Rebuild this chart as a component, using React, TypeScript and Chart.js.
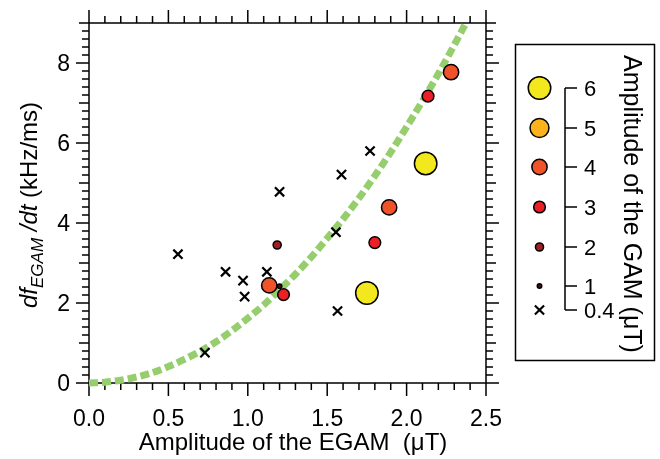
import React, { useEffect, useRef } from "react";
import { Chart, registerables } from "chart.js";

Chart.register(...registerables);

// ---- data ----
const xTickValues = [0, 0.5, 1, 1.5, 2, 2.5];
const xTickLabels = ["0.0", "0.5", "1.0", "1.5", "2.0", "2.5"];
const yTickValues = [0, 2, 4, 6, 8];
const yTickLabels = ["0", "2", "4", "6", "8"];

// GAM amplitude below ~0.4 uT (crosses)
const crossX = [0.56, 0.86, 0.97, 0.98, 1.12, 1.2, 0.73, 1.59, 1.77, 1.555, 1.565];
const crossY = [3.22, 2.78, 2.56, 2.16, 2.78, 4.78, 0.76, 5.21, 5.8, 3.77, 1.8];

// points with GAM amplitude (uT)
const gamX = [2.12, 1.75, 2.28, 1.89, 1.135, 2.135, 1.8, 1.225, 1.185, 1.2];
const gamY = [5.49, 2.25, 7.77, 4.39, 2.44, 7.17, 3.51, 2.21, 3.45, 2.42];
const gamAmp = [6, 6, 4, 4, 4, 3, 3, 3, 2, 1];

// green fit curve
const fitX = [0, 0.1, 0.2, 0.3, 0.4, 0.5, 0.6, 0.7, 0.8, 0.9, 1.0, 1.1, 1.2, 1.3, 1.4, 1.5, 1.6, 1.7, 1.8, 1.9, 2.0, 2.1, 2.2, 2.3, 2.4];
const fitY = [0, 0.02, 0.07, 0.15, 0.26, 0.41, 0.59, 0.79, 1.03, 1.31, 1.62, 1.95, 2.33, 2.72, 3.15, 3.62, 4.1, 4.62, 5.18, 5.77, 6.4, 7.05, 7.73, 8.45, 9.2];

// legend
const legendLevels = [6, 5, 4, 3, 2, 1];
const legendLabels = ["6", "5", "4", "3", "2", "1", "0.4"];
const xTitle = "Amplitude of the EGAM  (\u03bcT)";
const legendTitle = "Amplitude of the GAM (\u03bcT)";

// ---- styles ----
const FONT = '"Liberation Sans", Arial, Helvetica, sans-serif';
const ampColor = (a: number): string => {
  const m: Record<number, string> = {
    6: "#f2e81d",
    5: "#fbb21b",
    4: "#f05229",
    3: "#ec1f26",
    2: "#a31e22",
    1: "#4b1010",
  };
  return m[a] || "#000";
};
const ampRadius = (a: number): number => 1.8 * a + 1.2 - 0.75;

const drawCross = (ctx: CanvasRenderingContext2D, cx: number, cy: number, r: number) => {
  const o = r * Math.SQRT1_2;
  ctx.beginPath();
  ctx.moveTo(cx - o, cy - o);
  ctx.lineTo(cx + o, cy + o);
  ctx.moveTo(cx - o, cy + o);
  ctx.lineTo(cx + o, cy - o);
  ctx.lineWidth = 2.2;
  ctx.strokeStyle = "#000";
  ctx.stroke();
};

const framePlugin = {
  id: "frame",
  beforeDatasetsDraw(chart: any) {
    const { ctx, chartArea: a, scales } = chart;
    const xs = scales.x;
    const ys = scales.y;
    ctx.save();
    ctx.strokeStyle = "#000";
    ctx.lineWidth = 1.5;
    ctx.strokeRect(a.left, a.top, a.right - a.left, a.bottom - a.top);
    ctx.beginPath();
    for (let i = 0; i <= 25; i++) {
      const px = xs.getPixelForValue(i / 10);
      const len = i % 5 === 0 ? 13 : 7;
      ctx.moveTo(px, a.bottom);
      ctx.lineTo(px, a.bottom + len);
      ctx.moveTo(px, a.top);
      ctx.lineTo(px, a.top - len);
    }
    for (let i = 0; i <= 45; i++) {
      const py = ys.getPixelForValue(i / 5);
      const len = i % 10 === 0 ? 13 : i % 5 === 0 ? 10 : 7;
      ctx.moveTo(a.left, py);
      ctx.lineTo(a.left - len, py);
      ctx.moveTo(a.right, py);
      ctx.lineTo(a.right + len, py);
    }
    ctx.stroke();
    ctx.restore();
  },
  afterDraw(chart: any) {
    const { ctx, scales } = chart;
    const xs = scales.x;
    const ys = scales.y;
    ctx.save();
    ctx.fillStyle = "#000";
    // tick labels
    ctx.font = `23px ${FONT}`;
    ctx.textBaseline = "alphabetic";
    ctx.textAlign = "center";
    xTickValues.forEach((v, i) => {
      ctx.fillText(xTickLabels[i], xs.getPixelForValue(v), 426);
    });
    ctx.textAlign = "right";
    yTickValues.forEach((v, i) => {
      ctx.fillText(yTickLabels[i], 70, ys.getPixelForValue(v) + 8.3);
    });
    // x title
    ctx.font = `24px ${FONT}`;
    ctx.textAlign = "center";
    ctx.fillText(xTitle, 293, 450);

    // y title (rotated, mixed italics)
    ctx.save();
    ctx.translate(37, 205);
    ctx.rotate(-Math.PI / 2);
    const segs = [
      { t: "df", f: `italic 24px ${FONT}`, dy: 0 },
      { t: "EGAM", f: `italic 17px ${FONT}`, dy: 6 },
      { t: " /dt", f: `italic 24px ${FONT}`, dy: 0 },
      { t: " (kHz/ms)", f: `24px ${FONT}`, dy: 0 },
    ];
    let total = 0;
    segs.forEach((s) => {
      ctx.font = s.f;
      total += ctx.measureText(s.t).width;
    });
    let cx = -total / 2;
    ctx.textAlign = "left";
    segs.forEach((s) => {
      ctx.font = s.f;
      ctx.fillText(s.t, cx, s.dy);
      cx += ctx.measureText(s.t).width;
    });
    ctx.restore();

    // legend box
    ctx.lineWidth = 1.5;
    ctx.strokeStyle = "#000";
    ctx.strokeRect(515.5, 44.5, 139, 316);
    const rowY = [88, 128, 167, 207, 247, 286, 310];
    const mx = 539.5;
    legendLevels.forEach((lv, i) => {
      ctx.beginPath();
      ctx.arc(mx, rowY[i], ampRadius(lv), 0, Math.PI * 2);
      ctx.fillStyle = ampColor(lv);
      ctx.fill();
      ctx.lineWidth = 1.5;
      ctx.strokeStyle = "#000";
      ctx.stroke();
    });
    drawCross(ctx, mx, rowY[6], 6.5);
    // bracket scale
    ctx.beginPath();
    ctx.lineWidth = 1.5;
    ctx.strokeStyle = "#000";
    ctx.moveTo(565, rowY[0]);
    ctx.lineTo(565, rowY[6]);
    rowY.forEach((ry) => {
      ctx.moveTo(565, ry);
      ctx.lineTo(577, ry);
    });
    ctx.stroke();
    ctx.fillStyle = "#000";
    ctx.font = `22px ${FONT}`;
    ctx.textAlign = "left";
    legendLabels.forEach((lb, i) => {
      ctx.fillText(lb, 584, rowY[i] + 8);
    });
    // legend title
    ctx.save();
    ctx.translate(624, 204);
    ctx.rotate(Math.PI / 2);
    ctx.font = `25px ${FONT}`;
    ctx.textAlign = "center";
    ctx.fillText(legendTitle, 0, 0);
    ctx.restore();

    ctx.restore();
  },
};

export default function App() {
  const ref = useRef<HTMLCanvasElement | null>(null);
  useEffect(() => {
    if (!ref.current) return;
    const chart = new Chart(ref.current, {
      type: "scatter",
      data: {
        datasets: [
          {
            label: "GAM",
            data: gamX.map((x, i) => ({ x, y: gamY[i] })),
            pointRadius: gamAmp.map((a) => ampRadius(a)),
            pointBackgroundColor: gamAmp.map((a) => ampColor(a)),
            pointBorderColor: "#000",
            pointBorderWidth: 1.5,
            pointStyle: "circle",
            showLine: false,
            order: 1,
          } as any,
          {
            label: "small",
            data: crossX.map((x, i) => ({ x, y: crossY[i] })),
            pointStyle: "crossRot",
            pointRadius: 6.5,
            pointBorderWidth: 2.2,
            pointBorderColor: "#000",
            showLine: false,
            order: 2,
          } as any,
          {
            label: "fit",
            data: fitX.map((x, i) => ({ x, y: fitY[i] })),
            showLine: true,
            borderColor: "rgb(150,206,110)",
            borderWidth: 7,
            borderDash: [9, 4],
            borderCapStyle: "butt",
            pointRadius: 0,
            cubicInterpolationMode: "monotone",
            clip: { left: 5, right: 0, top: 0, bottom: 5 },
            order: 3,
          } as any,
        ],
      },
      options: {
        animation: false,
        responsive: false,
        maintainAspectRatio: false,
        devicePixelRatio: 1,
        layout: { padding: { left: 89, top: 23, right: 174, bottom: 76 } },
        plugins: { legend: { display: false }, tooltip: { enabled: false } },
        events: [],
        scales: {
          x: { type: "linear", min: 0, max: 2.5, display: false },
          y: { type: "linear", min: 0, max: 9, display: false },
        },
      },
      plugins: [framePlugin],
    });
    return () => chart.destroy();
  }, []);
  return (
    <div style={{ position: "fixed", left: 0, top: 0, width: 660, height: 459, background: "#fff" }}>
      <canvas ref={ref} width={660} height={459} style={{ display: "block", width: 660, height: 459 }} />
    </div>
  );
}
